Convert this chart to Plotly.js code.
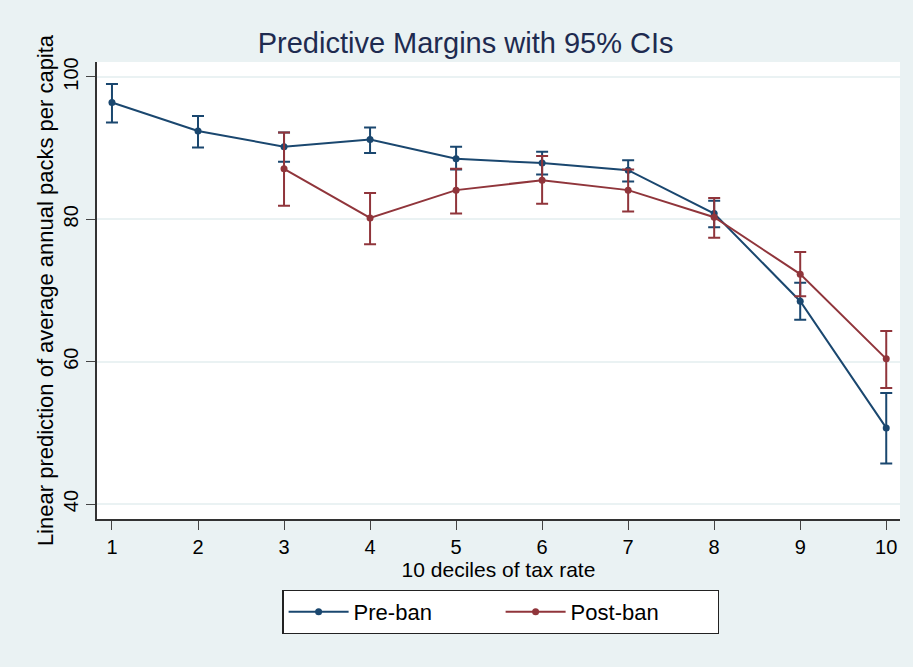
<!DOCTYPE html>
<html>
<head>
<meta charset="utf-8">
<script src="https://cdn.plot.ly/plotly-3.0.1.min.js"></script>
<style>html,body{margin:0;padding:0;background:#eaf2f3;}#chart{width:913px;height:667px;}</style>
</head>
<body>
<div id="chart"></div>
<script>
const deciles = [1,2,3,4,5,6,7,8,9,10];
const preBan = [96.4, 92.4, 90.2, 91.2, 88.5, 87.9, 86.9, 80.8, 68.5, 50.7];
const preHigh = [99.0, 94.5, 92.2, 92.9, 90.2, 89.5, 88.3, 82.6, 71.1, 55.6];
const preLow = [93.6, 90.1, 88.1, 89.3, 87.0, 86.3, 85.3, 78.9, 65.9, 45.7];
const postDeciles = [3,4,5,6,7,8,9,10];
const postBan = [87.1, 80.2, 84.1, 85.5, 84.1, 80.3, 72.3, 60.4];
const postHigh = [92.2, 83.7, 87.1, 88.9, 87.0, 83.0, 75.4, 64.3];
const postLow = [81.9, 76.5, 80.8, 82.2, 81.1, 77.4, 69.2, 56.3];
const yTicks = [40, 60, 80, 100];

const blue = '#1a476f', red = '#90353b';
function errs(v, hi, lo){
  return {
    type:'data', symmetric:false,
    array: hi.map((h,i)=>+(h-v[i]).toFixed(2)),
    arrayminus: lo.map((l,i)=>+(v[i]-l).toFixed(2))
  };
}
const e1 = errs(preBan, preHigh, preLow);
const e2 = errs(postBan, postHigh, postLow);
const traces = [
  {x:deciles, y:preBan, name:'Pre-ban', type:'scatter', mode:'lines+markers',
   line:{color:blue,width:2}, marker:{color:blue,size:7},
   error_y:Object.assign(e1,{color:blue,thickness:2,width:6})},
  {x:postDeciles, y:postBan, name:'Post-ban', type:'scatter', mode:'lines+markers',
   line:{color:red,width:2}, marker:{color:red,size:7},
   error_y:Object.assign(e2,{color:red,thickness:2,width:6})}
];
const layout = {
  width:913, height:667,
  paper_bgcolor:'#eaf2f3', plot_bgcolor:'#ffffff',
  font:{family:'Liberation Sans, Arial, sans-serif', color:'#000', size:20},
  margin:{l:97, r:13, t:62, b:148},
  title:{text:'Predictive Margins with 95% CIs', x:0.51, xanchor:'center', y:0.936, yanchor:'middle',
         font:{size:29, color:'#1e2b50'}},
  xaxis:{range:[0.826,10.16], tickvals:deciles, ticks:'outside', ticklen:9, tickcolor:'#444', tickwidth:1.2,
         showline:true, linecolor:'#333', linewidth:1.5, showgrid:false, zeroline:false,
         tickfont:{size:20}, title:{text:'10 deciles of tax rate', font:{size:21}, standoff:4}},
  yaxis:{range:[37.9,102.1], tickvals:yTicks, ticks:'outside', ticklen:9, tickcolor:'#444', tickwidth:1.2,
         showline:true, linecolor:'#333', linewidth:1.5, showgrid:true, gridcolor:'#eaf2f3', gridwidth:1.5,
         zeroline:false, tickangle:-90, tickfont:{size:20},
         title:{text:'Linear prediction of average annual packs per capita', font:{size:22}, standoff:1}},
  showlegend:true,
  legend:{orientation:'h', x:0.503, xanchor:'center', y:-0.155, yanchor:'top',
          bgcolor:'#ffffff', bordercolor:'#222', borderwidth:1.2, font:{size:22},
          entrywidth:142, itemwidth:60}
};
Plotly.newPlot('chart', traces, layout, {displayModeBar:false});
</script>
</body>
</html>
